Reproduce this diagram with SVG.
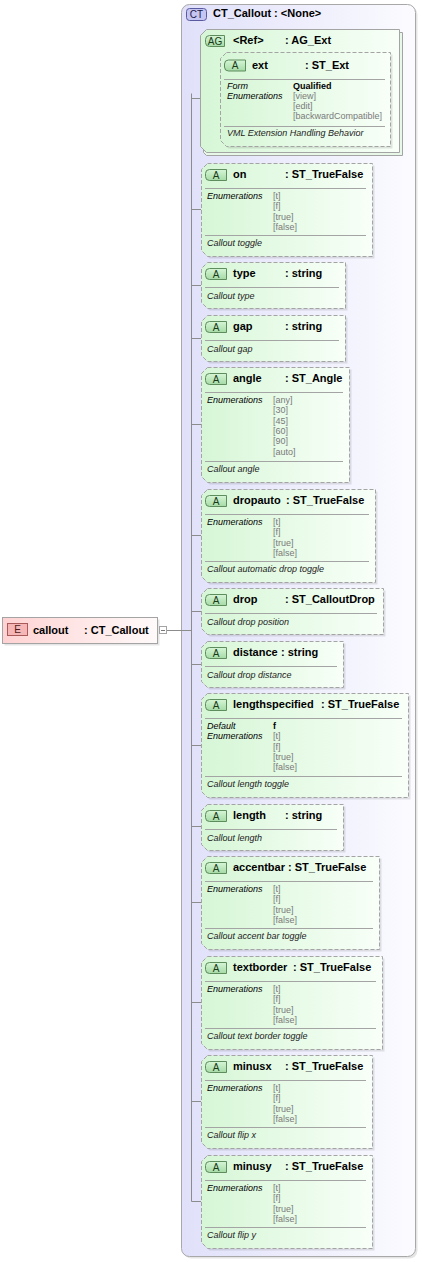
<svg xmlns="http://www.w3.org/2000/svg" xmlns:xlink="http://www.w3.org/1999/xlink" width="422" height="1262" viewBox="0 0 422 1262">
<style>
.box{fill:url(#gAttr);stroke:#a4a4a4;stroke-dasharray:4 2}
.shd{fill:#000;fill-opacity:0.10}
.sep{stroke:#a4a4a4;stroke-width:1}
.bdg{fill:url(#gBadgeA);stroke:#5d8c5d}
.bt{font-family:"Liberation Sans",Arial,sans-serif;font-size:10px;fill:#1a3a1a;text-anchor:middle}
.hd{font-family:"Liberation Sans",Arial,sans-serif;font-size:11px;font-weight:bold;fill:#000}
.lb{font-family:"Liberation Sans",Arial,sans-serif;font-size:9px;font-style:italic;fill:#000}
.v{font-family:"Liberation Sans",Arial,sans-serif;font-size:9px;fill:#7a7a7a}
.vb{font-family:"Liberation Sans",Arial,sans-serif;font-size:9px;font-weight:bold;fill:#000}
.ds{font-family:"Liberation Sans",Arial,sans-serif;font-size:9px;font-style:italic;fill:#222}
.cn{stroke:#8c8c8c;stroke-width:1;fill:none}
</style>
<defs>
<linearGradient id="gAttr" x1="0" y1="0" x2="1" y2="0"><stop offset="0" stop-color="#d6f6d6"/><stop offset="1" stop-color="#f8fff8"/></linearGradient>
<linearGradient id="gCT" x1="0" y1="0" x2="1" y2="0"><stop offset="0" stop-color="#e0e0fa"/><stop offset="1" stop-color="#fbfbff"/></linearGradient>
<linearGradient id="gEl" x1="0" y1="0" x2="1" y2="0"><stop offset="0" stop-color="#ffd2d2"/><stop offset="1" stop-color="#fffafa"/></linearGradient>
<linearGradient id="gBadgeA" x1="0" y1="0" x2="0" y2="1"><stop offset="0" stop-color="#d6f6d6"/><stop offset="1" stop-color="#a6daa6"/></linearGradient>
<g id="bA"><path class="bdg" d="M209.5,6.5H226.5V17.5H209.5Q205.5,17.5 205.5,13.5V10.5Q205.5,6.5 209.5,6.5Z"/><text class="bt" x="216" y="15.5">A</text></g>
</defs>

<g id="ct-callout">
<rect x="183.5" y="6.5" width="234" height="1252" rx="8" fill="#000" fill-opacity="0.10"/>
<rect x="181.5" y="4.5" width="234" height="1252" rx="8" fill="url(#gCT)" stroke="#a8a8a8"/>
<rect x="186.5" y="8.5" width="20" height="12" rx="3" fill="#c6c6f2" stroke="#5a5aa0"/>
<text x="196.5" y="18" font-family="Liberation Sans,Arial,sans-serif" font-size="10" fill="#1a1a4a" text-anchor="middle">CT</text>
<text class="hd" x="213" y="17">CT_Callout : &lt;None&gt;</text>
</g>

<g id="connectors">
<line class="cn" x1="167" y1="630.5" x2="191.5" y2="630.5"/>
<line class="cn" x1="191.5" y1="93.5" x2="191.5" y2="1201.5"/>
<line class="cn" x1="191.5" y1="98.5" x2="221" y2="98.5"/>
<line class="cn" x1="191.5" y1="209.5" x2="201" y2="209.5"/>
<line class="cn" x1="191.5" y1="285.5" x2="201" y2="285.5"/>
<line class="cn" x1="191.5" y1="338.5" x2="201" y2="338.5"/>
<line class="cn" x1="191.5" y1="424.5" x2="201" y2="424.5"/>
<line class="cn" x1="191.5" y1="535.5" x2="201" y2="535.5"/>
<line class="cn" x1="191.5" y1="611.5" x2="201" y2="611.5"/>
<line class="cn" x1="191.5" y1="664.5" x2="201" y2="664.5"/>
<line class="cn" x1="191.5" y1="745.5" x2="201" y2="745.5"/>
<line class="cn" x1="191.5" y1="826.5" x2="201" y2="826.5"/>
<line class="cn" x1="191.5" y1="902.5" x2="201" y2="902.5"/>
<line class="cn" x1="191.5" y1="1002.5" x2="201" y2="1002.5"/>
<line class="cn" x1="191.5" y1="1101.5" x2="201" y2="1101.5"/>
<line class="cn" x1="191.5" y1="1201.5" x2="201" y2="1201.5"/>
</g>

<g id="el-callout">
<rect x="4.5" y="619.5" width="155" height="26" fill="#000" fill-opacity="0.10"/>
<rect x="2.5" y="617.5" width="155" height="26" fill="url(#gEl)" stroke="#a4a4a4"/>
<rect x="7.5" y="623.5" width="20" height="12" fill="#f6b6b6" stroke="#a85a5a"/>
<text x="17.5" y="633" font-family="Liberation Sans,Arial,sans-serif" font-size="10" fill="#4a1a1a" text-anchor="middle">E</text>
<text class="hd" x="33" y="634">callout</text>
<text class="hd" x="84" y="634">: CT_Callout</text>
<rect x="159.5" y="626.5" width="7" height="7" fill="#fff" stroke="#a4a4a4"/>
<line x1="161" y1="630.5" x2="165" y2="630.5" stroke="#777"/>
</g>

<g id="ag-ext">
<path d="M206.5,32.5H402.5V155.5H206.5L203.5,152.5V35.5Z" fill="#e8f8e8" stroke="#a4a4a4"/>
<path d="M206.5,29.5H399.5V152.5H206.5L200.5,146.5V35.5Z" fill="url(#gAttr)" stroke="#a4a4a4"/>
<path d="M209.5,35.5H224.5V46.5H209.5Q205.5,46.5 205.5,42.5V39.5Q205.5,35.5 209.5,35.5Z" class="bdg"/>
<text class="bt" x="215" y="44.5">AG</text>
<text class="hd" x="233" y="44">&lt;Ref&gt;</text>
<text class="hd" x="285" y="44">: AG_Ext</text>
</g>

<g id="attr-ext">
<path class="shd" transform="translate(2,2)" d="M226.5,52.5H390.5V146.5H226.5L220.5,140.5V58.5Z"/>
<path class="box" d="M226.5,52.5H390.5V146.5H226.5L220.5,140.5V58.5Z"/>
<use xlink:href="#bA" href="#bA" transform="translate(19,53.5)"/>
<text class="hd" x="252" y="68.5">ext</text>
<text class="hd" x="305" y="68.5">: ST_Ext</text>
<line class="sep" x1="224" y1="79.5" x2="385" y2="79.5"/>
<text class="lb" x="227" y="88.5">Form</text>
<text class="vb" x="293" y="88.5">Qualified</text>
<text class="lb" x="227" y="98.5">Enumerations</text>
<text class="v" x="293" y="98.5">[view]</text>
<text class="v" x="293" y="108.8">[edit]</text>
<text class="v" x="293" y="119.1">[backwardCompatible]</text>
<line class="sep" x1="224" y1="126.5" x2="385" y2="126.5"/>
<text class="ds" x="227" y="136">VML Extension Handling Behavior</text>
</g>

<g id="attr-on" transform="translate(0,163)">
<path class="shd" transform="translate(2,2)" d="M207.5,0.5H372.5V93.5H207.5L201.5,87.5V6.5Z"/>
<path class="box" d="M207.5,0.5H372.5V93.5H207.5L201.5,87.5V6.5Z"/>
<use xlink:href="#bA" href="#bA"/>
<text class="hd" x="233" y="15">on</text><text class="hd" x="285" y="15">: ST_TrueFalse</text>
<line class="sep" x1="205" y1="25.5" x2="366" y2="25.5"/>
<text class="lb" x="207" y="36">Enumerations</text>
<text class="v" x="273" y="36">[t]</text><text class="v" x="273" y="46.3">[f]</text><text class="v" x="273" y="56.6">[true]</text><text class="v" x="273" y="66.9">[false]</text>
<line class="sep" x1="205" y1="72.5" x2="366" y2="72.5"/>
<text class="ds" x="207" y="82.5">Callout toggle</text>
</g>

<g id="attr-type" transform="translate(0,262)">
<path class="shd" transform="translate(2,2)" d="M207.5,0.5H345.5V46.5H207.5L201.5,40.5V6.5Z"/>
<path class="box" d="M207.5,0.5H345.5V46.5H207.5L201.5,40.5V6.5Z"/>
<use xlink:href="#bA" href="#bA"/>
<text class="hd" x="233" y="15">type</text><text class="hd" x="285" y="15">: string</text>
<line class="sep" x1="205" y1="25.5" x2="339" y2="25.5"/>
<text class="ds" x="207" y="36.5">Callout type</text>
</g>

<g id="attr-gap" transform="translate(0,315)">
<path class="shd" transform="translate(2,2)" d="M207.5,0.5H345.5V46.5H207.5L201.5,40.5V6.5Z"/>
<path class="box" d="M207.5,0.5H345.5V46.5H207.5L201.5,40.5V6.5Z"/>
<use xlink:href="#bA" href="#bA"/>
<text class="hd" x="233" y="15">gap</text><text class="hd" x="285" y="15">: string</text>
<line class="sep" x1="205" y1="25.5" x2="339" y2="25.5"/>
<text class="ds" x="207" y="36.5">Callout gap</text>
</g>

<g id="attr-angle" transform="translate(0,367)">
<path class="shd" transform="translate(2,2)" d="M207.5,0.5H349.5V115.5H207.5L201.5,109.5V6.5Z"/>
<path class="box" d="M207.5,0.5H349.5V115.5H207.5L201.5,109.5V6.5Z"/>
<use xlink:href="#bA" href="#bA"/>
<text class="hd" x="233" y="15">angle</text><text class="hd" x="285" y="15">: ST_Angle</text>
<line class="sep" x1="205" y1="25.5" x2="343" y2="25.5"/>
<text class="lb" x="207" y="36">Enumerations</text>
<text class="v" x="273" y="36">[any]</text><text class="v" x="273" y="46.3">[30]</text><text class="v" x="273" y="56.6">[45]</text><text class="v" x="273" y="66.9">[60]</text><text class="v" x="273" y="77.2">[90]</text><text class="v" x="273" y="87.5">[auto]</text>
<line class="sep" x1="205" y1="94.5" x2="343" y2="94.5"/>
<text class="ds" x="207" y="104.5">Callout angle</text>
</g>

<g id="attr-dropauto" transform="translate(0,489)">
<path class="shd" transform="translate(2,2)" d="M207.5,0.5H375.5V93.5H207.5L201.5,87.5V6.5Z"/>
<path class="box" d="M207.5,0.5H375.5V93.5H207.5L201.5,87.5V6.5Z"/>
<use xlink:href="#bA" href="#bA"/>
<text class="hd" x="233" y="15">dropauto</text><text class="hd" x="286" y="15">: ST_TrueFalse</text>
<line class="sep" x1="205" y1="25.5" x2="369" y2="25.5"/>
<text class="lb" x="207" y="36">Enumerations</text>
<text class="v" x="273" y="36">[t]</text><text class="v" x="273" y="46.3">[f]</text><text class="v" x="273" y="56.6">[true]</text><text class="v" x="273" y="66.9">[false]</text>
<line class="sep" x1="205" y1="72.5" x2="369" y2="72.5"/>
<text class="ds" x="207" y="82.5">Callout automatic drop toggle</text>
</g>

<g id="attr-drop" transform="translate(0,588)">
<path class="shd" transform="translate(2,2)" d="M207.5,0.5H383.5V46.5H207.5L201.5,40.5V6.5Z"/>
<path class="box" d="M207.5,0.5H383.5V46.5H207.5L201.5,40.5V6.5Z"/>
<use xlink:href="#bA" href="#bA"/>
<text class="hd" x="233" y="15">drop</text><text class="hd" x="285" y="15">: ST_CalloutDrop</text>
<line class="sep" x1="205" y1="25.5" x2="377" y2="25.5"/>
<text class="ds" x="207" y="36.5">Callout drop position</text>
</g>

<g id="attr-distance" transform="translate(0,641)">
<path class="shd" transform="translate(2,2)" d="M207.5,0.5H343.5V46.5H207.5L201.5,40.5V6.5Z"/>
<path class="box" d="M207.5,0.5H343.5V46.5H207.5L201.5,40.5V6.5Z"/>
<use xlink:href="#bA" href="#bA"/>
<text class="hd" x="233" y="15">distance</text><text class="hd" x="281" y="15">: string</text>
<line class="sep" x1="205" y1="25.5" x2="337" y2="25.5"/>
<text class="ds" x="207" y="36.5">Callout drop distance</text>
</g>

<g id="attr-lengthspecified" transform="translate(0,693)">
<path class="shd" transform="translate(2,2)" d="M207.5,0.5H408.5V104.5H207.5L201.5,98.5V6.5Z"/>
<path class="box" d="M207.5,0.5H408.5V104.5H207.5L201.5,98.5V6.5Z"/>
<use xlink:href="#bA" href="#bA"/>
<text class="hd" x="233" y="15">lengthspecified</text><text class="hd" x="321" y="15">: ST_TrueFalse</text>
<line class="sep" x1="205" y1="25.5" x2="402" y2="25.5"/>
<text class="lb" x="207" y="36">Default</text>
<text class="vb" x="273" y="36">f</text>
<text class="lb" x="207" y="46.3">Enumerations</text>
<text class="v" x="273" y="46.3">[t]</text><text class="v" x="273" y="56.6">[f]</text><text class="v" x="273" y="66.9">[true]</text><text class="v" x="273" y="77.2">[false]</text>
<line class="sep" x1="205" y1="83.5" x2="402" y2="83.5"/>
<text class="ds" x="207" y="93.5">Callout length toggle</text>
</g>

<g id="attr-length" transform="translate(0,804)">
<path class="shd" transform="translate(2,2)" d="M207.5,0.5H343.5V46.5H207.5L201.5,40.5V6.5Z"/>
<path class="box" d="M207.5,0.5H343.5V46.5H207.5L201.5,40.5V6.5Z"/>
<use xlink:href="#bA" href="#bA"/>
<text class="hd" x="233" y="15">length</text><text class="hd" x="285" y="15">: string</text>
<line class="sep" x1="205" y1="25.5" x2="337" y2="25.5"/>
<text class="ds" x="207" y="36.5">Callout length</text>
</g>

<g id="attr-accentbar" transform="translate(0,856)">
<path class="shd" transform="translate(2,2)" d="M207.5,0.5H379.5V93.5H207.5L201.5,87.5V6.5Z"/>
<path class="box" d="M207.5,0.5H379.5V93.5H207.5L201.5,87.5V6.5Z"/>
<use xlink:href="#bA" href="#bA"/>
<text class="hd" x="233" y="15">accentbar</text><text class="hd" x="288" y="15">: ST_TrueFalse</text>
<line class="sep" x1="205" y1="25.5" x2="373" y2="25.5"/>
<text class="lb" x="207" y="36">Enumerations</text>
<text class="v" x="273" y="36">[t]</text><text class="v" x="273" y="46.3">[f]</text><text class="v" x="273" y="56.6">[true]</text><text class="v" x="273" y="66.9">[false]</text>
<line class="sep" x1="205" y1="72.5" x2="373" y2="72.5"/>
<text class="ds" x="207" y="82.5">Callout accent bar toggle</text>
</g>

<g id="attr-textborder" transform="translate(0,956)">
<path class="shd" transform="translate(2,2)" d="M207.5,0.5H382.5V93.5H207.5L201.5,87.5V6.5Z"/>
<path class="box" d="M207.5,0.5H382.5V93.5H207.5L201.5,87.5V6.5Z"/>
<use xlink:href="#bA" href="#bA"/>
<text class="hd" x="233" y="15">textborder</text><text class="hd" x="293" y="15">: ST_TrueFalse</text>
<line class="sep" x1="205" y1="25.5" x2="376" y2="25.5"/>
<text class="lb" x="207" y="36">Enumerations</text>
<text class="v" x="273" y="36">[t]</text><text class="v" x="273" y="46.3">[f]</text><text class="v" x="273" y="56.6">[true]</text><text class="v" x="273" y="66.9">[false]</text>
<line class="sep" x1="205" y1="72.5" x2="376" y2="72.5"/>
<text class="ds" x="207" y="82.5">Callout text border toggle</text>
</g>

<g id="attr-minusx" transform="translate(0,1055)">
<path class="shd" transform="translate(2,2)" d="M207.5,0.5H372.5V93.5H207.5L201.5,87.5V6.5Z"/>
<path class="box" d="M207.5,0.5H372.5V93.5H207.5L201.5,87.5V6.5Z"/>
<use xlink:href="#bA" href="#bA"/>
<text class="hd" x="233" y="15">minusx</text><text class="hd" x="285" y="15">: ST_TrueFalse</text>
<line class="sep" x1="205" y1="25.5" x2="366" y2="25.5"/>
<text class="lb" x="207" y="36">Enumerations</text>
<text class="v" x="273" y="36">[t]</text><text class="v" x="273" y="46.3">[f]</text><text class="v" x="273" y="56.6">[true]</text><text class="v" x="273" y="66.9">[false]</text>
<line class="sep" x1="205" y1="72.5" x2="366" y2="72.5"/>
<text class="ds" x="207" y="82.5">Callout flip x</text>
</g>

<g id="attr-minusy" transform="translate(0,1155)">
<path class="shd" transform="translate(2,2)" d="M207.5,0.5H372.5V93.5H207.5L201.5,87.5V6.5Z"/>
<path class="box" d="M207.5,0.5H372.5V93.5H207.5L201.5,87.5V6.5Z"/>
<use xlink:href="#bA" href="#bA"/>
<text class="hd" x="233" y="15">minusy</text><text class="hd" x="285" y="15">: ST_TrueFalse</text>
<line class="sep" x1="205" y1="25.5" x2="366" y2="25.5"/>
<text class="lb" x="207" y="36">Enumerations</text>
<text class="v" x="273" y="36">[t]</text><text class="v" x="273" y="46.3">[f]</text><text class="v" x="273" y="56.6">[true]</text><text class="v" x="273" y="66.9">[false]</text>
<line class="sep" x1="205" y1="72.5" x2="366" y2="72.5"/>
<text class="ds" x="207" y="82.5">Callout flip y</text>
</g>
</svg>
